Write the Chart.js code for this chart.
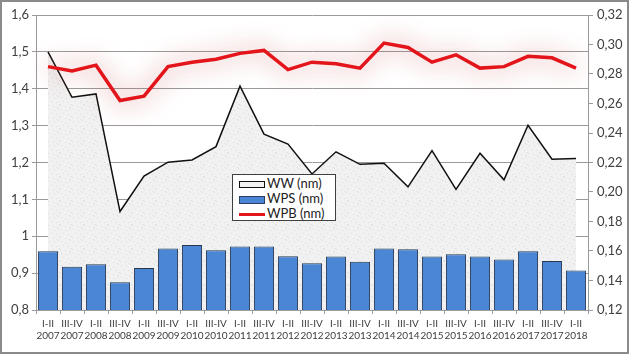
<!DOCTYPE html>
<html>
<head>
<meta charset="utf-8">
<script src="https://cdn.jsdelivr.net/npm/chart.js@4/dist/chart.umd.min.js"></script>
<style>
  body { margin: 0; background: #fff; }
  #wrap { position: relative; width: 629px; height: 354px; }
  #frame { position: absolute; left: 0; top: 0; width: 629px; height: 354px; box-sizing: border-box; border: 2px solid #8a8a8a; pointer-events: none; }
  #legend { position: absolute; left: 232px; top: 174px; width: 104px; height: 47px; box-sizing: border-box;
    border: 1px solid #404040; background: #fff; font: 13px Lato, "Open Sans", sans-serif; color: #222; padding: 1px 0 0 6px; }
  #legend div { height: 15px; line-height: 15px; white-space: nowrap; }
  #legend span.k { display: inline-block; width: 26px; vertical-align: middle; margin-right: 2px; }
</style>
</head>
<body>
<div id="wrap">
  <canvas id="chart" width="629" height="354"></canvas>
  <div id="legend">
    <div><span class="k" style="height:7px;border:1px solid #111;background:#f2f2f2;box-sizing:border-box"></span>WW (nm)</div>
    <div><span class="k" style="height:8px;border:1px solid #2a3f60;background:#4a86d4;box-sizing:border-box"></span>WPS (nm)</div>
    <div><span class="k" style="height:3px;background:#e3141a"></span>WPB (nm)</div>
  </div>
  <div id="frame"></div>
</div>
<script>
const periods = ['I-II', 'III-IV', 'I-II', 'III-IV', 'I-II', 'III-IV', 'I-II', 'III-IV', 'I-II', 'III-IV', 'I-II', 'III-IV',
                 'I-II', 'III-IV', 'I-II', 'III-IV', 'I-II', 'III-IV', 'I-II', 'III-IV', 'I-II', 'III-IV', 'I-II'];
const years = ['2007', '2007', '2008', '2008', '2009', '2009', '2010', '2010', '2011', '2011', '2012', '2012',
               '2013', '2013', '2014', '2014', '2015', '2015', '2016', '2016', '2017', '2017', '2018'];
const ww = [1.500, 1.377, 1.386, 1.067, 1.163, 1.201, 1.207, 1.243, 1.407, 1.277, 1.250, 1.169,
            1.229, 1.195, 1.198, 1.134, 1.232, 1.127, 1.225, 1.153, 1.301, 1.209, 1.211];
const wps = [0.959, 0.917, 0.924, 0.875, 0.914, 0.967, 0.976, 0.962, 0.972, 0.972, 0.946, 0.927,
             0.945, 0.931, 0.967, 0.965, 0.945, 0.951, 0.945, 0.937, 0.959, 0.933, 0.907];
const wpb = [0.285, 0.282, 0.286, 0.262, 0.265, 0.285, 0.288, 0.290, 0.294, 0.296, 0.283, 0.288,
             0.287, 0.284, 0.301, 0.298, 0.288, 0.293, 0.284, 0.285, 0.292, 0.291, 0.284];

const labels = periods.map((p, i) => [p, years[i]]);

// light speckled fill for the WW area
const pat = document.createElement('canvas');
pat.width = 12; pat.height = 12;
const pc = pat.getContext('2d');
pc.fillStyle = '#f1f1f1';
pc.fillRect(0, 0, 12, 12);
pc.fillStyle = '#dcdcdc';
[[1, 1], [6, 2], [10, 0], [3, 5], [8, 6], [0, 9], [5, 10], [11, 8], [9, 11]].forEach(([x, y]) => pc.fillRect(x, y, 1, 1));
const wwFill = pc.createPattern(pat, 'repeat');

// soft pink halo around the WPB line
const glow = {
  id: 'glow',
  beforeDatasetDraw(chart, args) {
    if (args.index === 2) {
      chart.ctx.save();
      chart.ctx.shadowColor = 'rgba(200, 70, 70, 0.9)';
      chart.ctx.shadowBlur = 24;
    }
  },
  afterDatasetDraw(chart, args) {
    if (args.index === 2) chart.ctx.restore();
  }
};

const tickFont = { family: 'Lato, "Open Sans", sans-serif', size: 13 };
const comma = v => String(v).replace('.', ',');

new Chart(document.getElementById('chart'), {
  data: {
    labels: labels,
    datasets: [
      {
        type: 'line', label: 'WW (nm)', data: ww, yAxisID: 'y',
        borderColor: '#111', borderWidth: 1.5, backgroundColor: wwFill,
        fill: 'start', pointRadius: 0, tension: 0, order: 3
      },
      {
        type: 'bar', label: 'WPS (nm)', data: wps, yAxisID: 'y',
        backgroundColor: '#4a86d4', borderColor: '#26364f', borderWidth: 1,
        categoryPercentage: 1, barPercentage: 0.84, order: 2
      },
      {
        type: 'line', label: 'WPB (nm)', data: wpb, yAxisID: 'y2',
        borderColor: '#e3141a', borderWidth: 3.5, pointRadius: 0, tension: 0,
        fill: false, order: 1
      }
    ]
  },
  options: {
    responsive: false,
    animation: false,
    layout: { padding: { top: 15, left: 0, right: 0, bottom: 0 } },
    plugins: { legend: { display: false }, tooltip: { enabled: false } },
    scales: {
      x: {
        offset: true,
        grid: { display: true, drawOnChartArea: false, offset: true, tickLength: 4, color: '#9a9a9a' },
        border: { color: '#9a9a9a' },
        ticks: { color: '#404040', font: { family: 'Lato, "Open Sans", sans-serif', size: 10 }, maxRotation: 0, autoSkip: false, padding: 4 },
        afterFit(s) { s.height = 44; }
      },
      y: {
        position: 'left', min: 0.8, max: 1.6,
        ticks: { stepSize: 0.1, color: '#404040', font: tickFont, padding: 3,
          callback: v => comma(Math.round(v * 10) / 10) },
        grid: { color: '#9a9a9a', tickLength: 4 },
        border: { color: '#9a9a9a' },
        afterFit(s) { s.width = 36; }
      },
      y2: {
        position: 'right', min: 0.12, max: 0.32,
        ticks: { stepSize: 0.02, color: '#404040', font: tickFont, padding: 4,
          callback: v => comma(v.toFixed(2)) },
        grid: { drawOnChartArea: false, color: '#9a9a9a', tickLength: 5 },
        border: { color: '#9a9a9a' },
        afterFit(s) { s.width = 41; }
      }
    }
  },
  plugins: [glow]
});
</script>
</body>
</html>
